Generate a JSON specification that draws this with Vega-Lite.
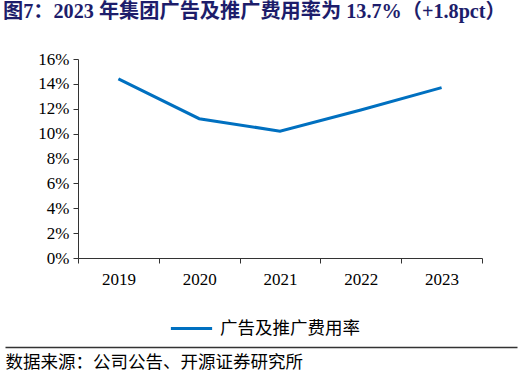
{
  "$schema": "https://vega.github.io/schema/vega-lite/v6.json",
  "autosize": "none",
  "width": 404,
  "height": 199,
  "padding": {"left": 78, "top": 59, "right": 40, "bottom": 119},
  "background": "white",
  "title": {
    "text": "图7：2023 年集团广告及推广费用率为 13.7%（+1.8pct）",
    "anchor": "start",
    "frame": "group",
    "dx": -75,
    "offset": 28,
    "font": "Liberation Serif, Noto Sans CJK SC",
    "fontSize": 20.2,
    "fontWeight": "bold",
    "color": "#1d1d6b"
  },
  "config": {
    "view": {"stroke": null}
  },
  "data": {
    "values": [
      {"year": "2019", "value": 0.144, "series": "广告及推广费用率"},
      {"year": "2020", "value": 0.112, "series": "广告及推广费用率"},
      {"year": "2021", "value": 0.102, "series": "广告及推广费用率"},
      {"year": "2022", "value": 0.119, "series": "广告及推广费用率"},
      {"year": "2023", "value": 0.137, "series": "广告及推广费用率"}
    ]
  },
  "encoding": {
    "y": {
      "field": "value", "type": "quantitative",
      "scale": {"domain": [0, 0.16]},
      "axis": {"title": null, "values": [0, 0.02, 0.04, 0.06, 0.08, 0.1, 0.12, 0.14, 0.16], "format": ".0%", "tickSize": 5, "labelPadding": 4,
        "labelFont": "Liberation Serif", "labelFontSize": 17, "labelColor": "#000000", "domainColor": "#333333", "tickColor": "#333333", "grid": false, "labelOverlap": false, "labelBound": false}
    }
  },
  "layer": [
    {
      "mark": {"type": "line", "strokeWidth": 3},
      "encoding": {
        "x": {
          "field": "year", "type": "ordinal",
          "scale": {"type": "band", "paddingInner": 0, "paddingOuter": 0},
          "axis": {"title": null, "labelAngle": 0, "tickBand": "extent", "tickSize": 5, "labelPadding": 8,
            "labelFont": "Liberation Serif", "labelFontSize": 17, "labelColor": "#000000", "domainColor": "#333333", "tickColor": "#333333", "grid": false}
        },
        "color": {
          "field": "series", "type": "nominal",
          "scale": {"range": ["#0070c0"]},
          "legend": {
            "title": null, "orient": "none", "legendX": 91, "legendY": 247,
            "symbolType": "stroke", "symbolSize": 1700, "symbolStrokeWidth": 3,
            "labelFont": "Noto Sans CJK SC", "labelFontSize": 17.5, "labelColor": "#000000", "labelOffset": 6
          }
        }
      }
    },
    {
      "mark": {"type": "point", "opacity": 0},
      "encoding": {
        "x": {
          "field": "value", "type": "quantitative",
          "scale": {"range": [-73, 439], "zero": true},
          "axis": {
            "orient": "bottom", "offset": 89, "labels": false, "ticks": false, "grid": false,
            "domainColor": "#333333", "domainWidth": 1.5,
            "title": "数据来源：公司公告、开源证券研究所",
            "titleAnchor": "start", "titleAlign": "left", "titleBaseline": "top",
            "titleFont": "Noto Sans CJK SC", "titleFontSize": 17.5, "titleFontWeight": "normal", "titleColor": "#000000", "titlePadding": 6
          }
        }
      }
    }
  ],
  "resolve": {"scale": {"x": "independent"}, "axis": {"x": "independent"}}
}
